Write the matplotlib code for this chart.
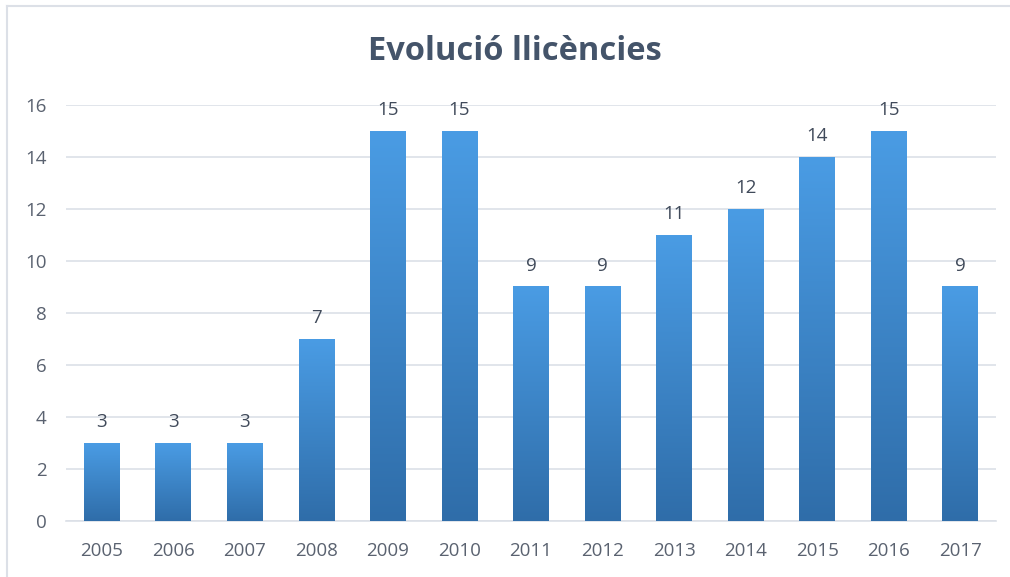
import matplotlib
matplotlib.use("Agg")
import matplotlib.pyplot as plt
import numpy as np
from matplotlib.colors import LinearSegmentedColormap
from matplotlib.lines import Line2D

years = ["2005", "2006", "2007", "2008", "2009", "2010", "2011",
         "2012", "2013", "2014", "2015", "2016", "2017"]
values = [3, 3, 3, 7, 15, 15, 9, 9, 11, 12, 14, 15, 9]
yticks = [0, 2, 4, 6, 8, 10, 12, 14, 16]

plt.rcParams['font.family'] = ['Open Sans', 'DejaVu Sans']

fig = plt.figure(figsize=(10.10, 5.77), dpi=100)
ax = fig.add_axes([66 / 1010, 1 - 521 / 577, 930 / 1010, 416 / 577])

x = np.arange(len(years))
bars = ax.bar(x, values, width=0.5, color='none', zorder=3)

cmap = LinearSegmentedColormap.from_list('g', ['#2F6DA9', '#4A9CE4'])
grad = np.linspace(0, 1, 256).reshape(-1, 1)
for b in bars:
    x0, w, h = b.get_x(), b.get_width(), b.get_height()
    ax.imshow(grad, extent=(x0, x0 + w, 0, h), origin='lower', aspect='auto',
              cmap=cmap, zorder=3)
    ax.text(x0 + w / 2, h + 0.45, f"{h:g}", ha='center', va='bottom',
            fontsize=13.5, color='#404A5A', zorder=4)

ax.set_xlim(-0.5, len(years) - 0.5)
ax.set_ylim(0, 16)
ax.set_yticks(yticks)
ax.set_xticks(x)
ax.set_xticklabels(years)
ax.grid(axis='y', color='#DCE0E7', linewidth=1.2, zorder=0)
ax.set_axisbelow(True)
for s in ['top', 'right', 'left']:
    ax.spines[s].set_visible(False)
ax.spines['bottom'].set_color('#DCE0E7')
ax.spines['bottom'].set_linewidth(1.2)
ax.tick_params(length=0, labelsize=13.5, labelcolor='#5A6270')
ax.tick_params(axis='x', pad=15)
ax.tick_params(axis='y', pad=14)

fig.text(515 / 1010, 1 - 52 / 577, "Evolució llicències", ha='center', va='center',
         fontsize=23.5, fontweight='bold', color='#44546A')

fig.add_artist(Line2D([7 / 1010, 1], [1 - 6 / 577, 1 - 6 / 577], color='#DCE0E7', linewidth=1.5,
                      transform=fig.transFigure))
fig.add_artist(Line2D([7 / 1010, 7 / 1010], [0, 1 - 6 / 577], color='#DCE0E7', linewidth=1.5,
                      transform=fig.transFigure))

fig.savefig("out.png", dpi=100)
